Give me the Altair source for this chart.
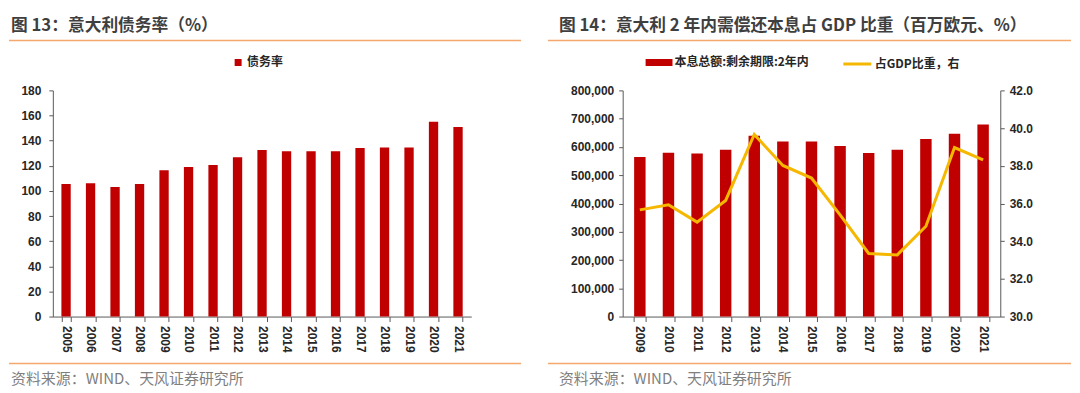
import altair as alt
import pandas as pd

# ---------------- data ----------------
years_debt = ["2005", "2006", "2007", "2008", "2009", "2010", "2011", "2012", "2013",
              "2014", "2015", "2016", "2017", "2018", "2019", "2020", "2021"]
debt_ratio = [105.6, 106.1, 103.1, 105.6, 116.4, 119.0, 120.6, 126.7, 132.5,
              131.5, 131.5, 131.5, 134.1, 134.6, 134.6, 155.0, 150.8]

years_due = ["2009", "2010", "2011", "2012", "2013", "2014", "2015",
             "2016", "2017", "2018", "2019", "2020", "2021"]
due_amount = [564000, 579300, 577000, 590000, 639500, 619500, 619500,
              603000, 579000, 590000, 627700, 646600, 679600]
gdp_share = [35.66, 35.93, 35.01, 36.16, 39.66, 38.02, 37.35,
             35.40, 33.35, 33.27, 34.79, 38.97, 38.32]

ticks_debt = [0, 20, 40, 60, 80, 100, 120, 140, 160, 180]
ticks_amount = [0, 100000, 200000, 300000, 400000, 500000, 600000, 700000, 800000]
ticks_share = [30, 32, 34, 36, 38, 40, 42]

title_left = "图 13：意大利债务率（%）"
title_right = "图 14：意大利 2 年内需偿还本息占 GDP 比重（百万欧元、%）"
source_text = "资料来源：WIND、天风证券研究所"
series_debt = "债务率"
series_amount = "本息总额:剩余期限:2年内"
series_share = "占GDP比重，右"

# ---------------- style ----------------
BAR = "#c00000"
LINE = "#f5b700"
RULE = "#f4a86e"
CJK = "Noto Sans CJK SC"
NUM = "Liberation Sans"
AXIS = "#595959"
LABEL = "#262626"

H = 227
W1 = 420
W2 = 379


def frame(title, tx, rx0, rx1):
    t_df = pd.DataFrame({"t": [title]})
    s_df = pd.DataFrame({"t": [source_text]})
    r_df = pd.DataFrame({"k": [1]})
    title_mark = alt.Chart(t_df).mark_text(
        align="left", baseline="middle", font=CJK, fontSize=16.8,
        fontWeight="bold", color="#3f3f3f"
    ).encode(x=alt.value(tx), y=alt.value(-65), text="t:N")
    top_rule = alt.Chart(r_df).mark_rule(color=RULE, strokeWidth=1.5).encode(
        x=alt.value(rx0), x2=alt.value(rx1), y=alt.value(-50))
    bot_rule = alt.Chart(r_df).mark_rule(color=RULE, strokeWidth=1.5).encode(
        x=alt.value(rx0), x2=alt.value(rx1), y=alt.value(274))
    source = alt.Chart(s_df).mark_text(
        align="left", baseline="middle", font=CJK, fontSize=15,
        color="#7f7f7f"
    ).encode(x=alt.value(tx), y=alt.value(290), text="t:N")
    return [title_mark, top_rule, bot_rule, source]


x_axis = dict(labelAngle=90, tickBand="extent", labelPadding=4, tickSize=5,
              title=None)

# ---------------- left chart ----------------
df1 = pd.DataFrame({"year": years_debt, "value": debt_ratio,
                    "series": [series_debt] * len(years_debt)})

bars1 = alt.Chart(df1).mark_bar(color=BAR).encode(
    x=alt.X("year:N", sort=None, title=None,
            scale=alt.Scale(paddingInner=0.62, paddingOuter=0.35),
            axis=alt.Axis(**x_axis)),
    y=alt.Y("value:Q", title=None, scale=alt.Scale(domain=[0, 180], nice=False),
            axis=alt.Axis(values=ticks_debt, labelPadding=8, tickSize=4)),
    color=alt.Color("series:N",
                    scale=alt.Scale(domain=[series_debt], range=[BAR]),
                    legend=alt.Legend(orient="none", legendX=180, legendY=-34,
                                      title=None, symbolType="square",
                                      symbolSize=49, symbolStrokeWidth=0,
                                      labelFont=CJK, labelFontSize=12,
                                      labelFontWeight="bold", labelColor=LABEL,
                                      labelOffset=3, padding=0)),
)

left = alt.layer(bars1, *frame(title_left, -42, -44, 470)).properties(
    width=W1, height=H)

# ---------------- right chart ----------------
df2 = pd.DataFrame({"year": years_due, "amount": due_amount, "share": gdp_share,
                    "s1": [series_amount] * len(years_due),
                    "s2": [series_share] * len(years_due)})

xr = alt.X("year:N", sort=None, title=None,
           scale=alt.Scale(paddingInner=0.6, paddingOuter=0.4),
           axis=alt.Axis(**x_axis))

bars2 = alt.Chart(df2).mark_bar().encode(
    x=xr,
    y=alt.Y("amount:Q", title=None,
            scale=alt.Scale(domain=[0, 800000], nice=False),
            axis=alt.Axis(values=ticks_amount, orient="left",
                          labelExpr="format(datum.value, ',')",
                          labelPadding=5, tickSize=4)),
    color=alt.Color("s1:N",
                    scale=alt.Scale(domain=[series_amount], range=[BAR]),
                    legend=alt.Legend(orient="none", legendX=23, legendY=-41.5,
                                      title=None,
                                      symbolType="M-1,-0.26H1V0.26H-1Z",
                                      symbolSize=729, symbolStrokeWidth=0,
                                      labelFont=CJK, labelFontSize=12,
                                      labelFontWeight="bold", labelColor=LABEL,
                                      labelOffset=2, padding=0)),
)

line2 = alt.Chart(df2).mark_line(strokeWidth=3).encode(
    x=xr,
    y=alt.Y("share:Q", title=None,
            scale=alt.Scale(domain=[30, 42], nice=False, zero=False),
            axis=alt.Axis(values=ticks_share, orient="right",
                          labelExpr="format(datum.value, '.1f')",
                          labelPadding=5, tickSize=4)),
    stroke=alt.Stroke("s2:N",
                      scale=alt.Scale(domain=[series_share], range=[LINE]),
                      legend=alt.Legend(orient="none", legendX=220, legendY=-42,
                                        title=None, symbolType="stroke",
                                        symbolSize=784, symbolStrokeWidth=3,
                                        labelFont=CJK, labelFontSize=12,
                                        labelFontWeight="bold", labelColor=LABEL,
                                        labelOffset=2, padding=0)),
)

right = alt.layer(bars2, line2, *frame(title_right, -64, -75, 450)).resolve_scale(
    y="independent").properties(width=W2, height=H)

chart = alt.hconcat(left, right, spacing=25).resolve_scale(
    x="independent", color="independent", stroke="independent"
).resolve_legend(
    color="independent", stroke="independent"
).properties(
    padding={"left": 0, "top": 9, "right": 0, "bottom": 0}
).configure_view(stroke=None).configure_axis(
    domainColor=AXIS, tickColor=AXIS, domainWidth=1, tickWidth=1,
    labelFont=NUM, labelFontSize=12, labelFontWeight="bold",
    labelColor=LABEL, grid=False
)

chart.save("out.html", embed_options={"renderer": "svg", "actions": False})
